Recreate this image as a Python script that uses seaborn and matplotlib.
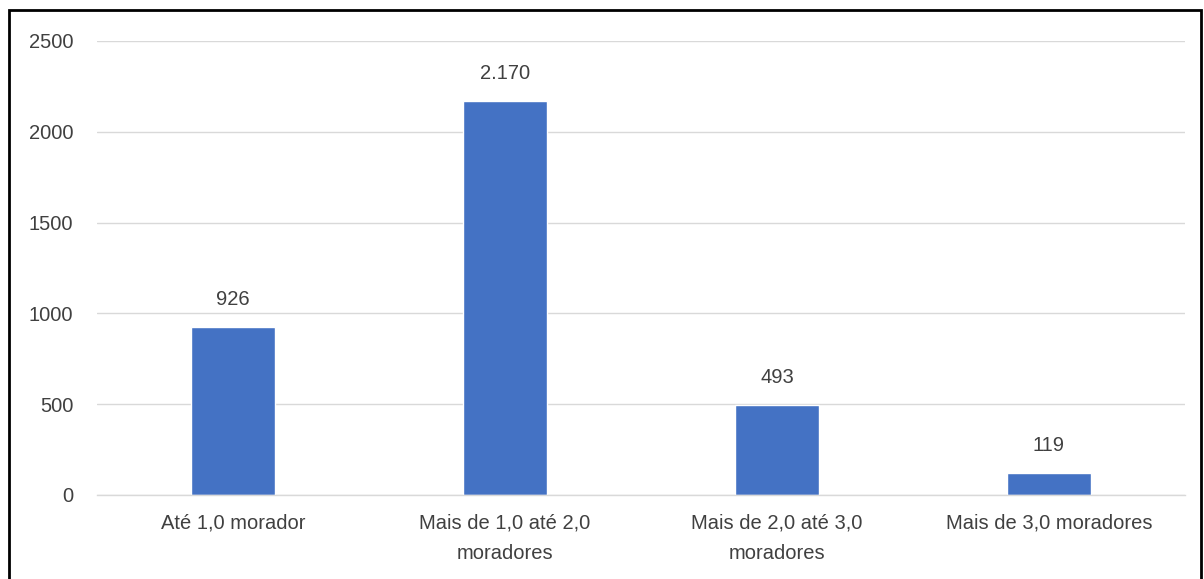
import matplotlib
matplotlib.use("Agg")
import matplotlib.pyplot as plt
import seaborn as sns
import pandas as pd
from matplotlib.patches import Rectangle

categories = ["Até 1,0 morador", "Mais de 1,0 até 2,0\nmoradores",
              "Mais de 2,0 até 3,0\nmoradores", "Mais de 3,0 moradores"]
values = [926, 2170, 493, 119]
value_labels = ["926", "2.170", "493", "119"]
yticks = [0, 500, 1000, 1500, 2000, 2500]

sns.set_theme(style="white")
plt.rcParams["font.family"] = ["Liberation Sans", "DejaVu Sans"]

df = pd.DataFrame({"cat": categories, "val": values})

FS = 14.5
fig = plt.figure(figsize=(12.04, 5.79), dpi=100)
ax = fig.add_axes([97/1204, 1-495/579, 1088/1204, 454/579])
sns.barplot(data=df, x="cat", y="val", color="#4472C4", width=0.31,
            saturation=1, ax=ax)
ax.set_xlim(-0.5, 3.5)
ax.set_ylim(0, 2500)
ax.set_yticks(yticks)
ax.set_yticklabels([str(t) for t in yticks])
ax.yaxis.grid(True, color="#D9D9D9", linewidth=1)
ax.set_axisbelow(True)
for s in ["top", "right", "left"]:
    ax.spines[s].set_visible(False)
ax.spines["bottom"].set_color("#D9D9D9")
ax.spines["bottom"].set_linewidth(1)
ax.tick_params(axis="both", length=0, labelsize=FS, colors="#404040")
ax.tick_params(axis="y", pad=17)
ax.tick_params(axis="x", pad=13.5)
for lab in ax.get_xticklabels():
    lab.set_linespacing(1.75)
ax.set_xlabel("")
ax.set_ylabel("")

for i, (v, t) in enumerate(zip(values, value_labels)):
    ax.annotate(t, (i, v), xytext=(0, 20), textcoords="offset points",
                ha="center", va="center", fontsize=FS, color="#404040")

fig.patches.append(Rectangle((9/1204, -0.01), (1201-9)/1204, 1-10/579+0.01,
                             transform=fig.transFigure, fill=False,
                             edgecolor="black", linewidth=2))

fig.savefig("out.png", dpi=100)
